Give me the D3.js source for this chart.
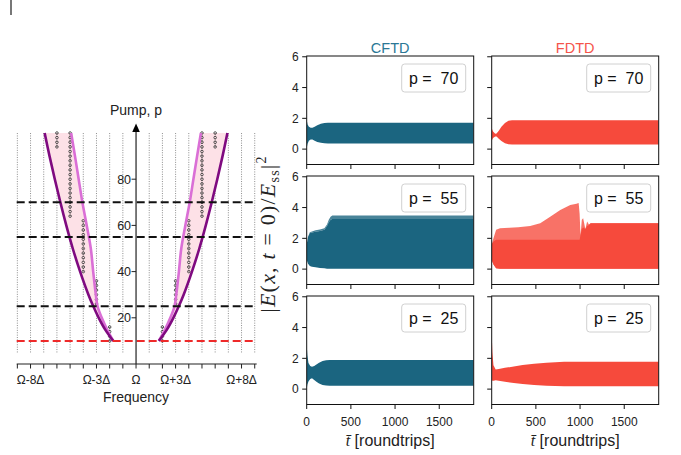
<!DOCTYPE html>
<html><head><meta charset="utf-8">
<script src="https://cdn.jsdelivr.net/npm/d3@7"></script>
<style>
body{margin:0;background:#fff;}
svg{display:block;font-family:"Liberation Sans", Arial, sans-serif;}
</style></head><body>
<svg id="c" width="681" height="455"></svg>
<script>
// ================= LEFT PANEL DATA =================
const freqTicks = [-9,-8,-7,-6,-5,-4,-3,-2,-1,0,1,2,3,4,5,6,7,8,9];
const freqLabelValues = [-8,-3,0,3,8];
const freqLabelTexts = ["Ω-8Δ","Ω-3Δ","Ω","Ω+3Δ","Ω+8Δ"];
const pumpTicks = [20,40,60,80];
const pumpLevels = [70,55,25];
const thresholdLevel = 10;
const curvePump   = [10, 15, 20, 25, 30, 40, 50, 60, 70, 80, 90, 100];
const outerOffset = [1.73, 2.35, 2.83, 3.24, 3.61, 4.24, 4.80, 5.29, 5.74, 6.16, 6.56, 6.93];
const innerOffset = [1.73, 2.2, 2.6, 2.92, 3.05, 3.25, 3.43, 3.74, 4.07, 4.35, 4.63, 4.92];
const pumpGrid = [10,12,14,16,18,20,22,24,26,28,30,32,34,36,38,40,42,44,46,48,50,52,54,56,58,60,62,64,66,68,70,72,74,76,78,80,82,84,86,88,90,92,94,96,98,100];
const markerFreq = [-6,-5,-4,-3,-2,2,3,4,5,6];
const markerPLow = [94,64,40,26,10,10,26,40,64,94];
const markerPHigh= [100,100,62,36,16,16,36,62,100,100];

// ================= RIGHT PANELS DATA =================
const methods = ["CFTD","FDTD"];
const pumps = [70,55,25];
const timeTicks = [0,500,1000,1500];
const ampTicks = [0,2,4,6];

const tC70 = [0, 10, 25, 45, 65, 90, 120, 160, 200, 240, 1890];
const uC70 = [1.9, 1.6, 1.45, 1.38, 1.38, 1.45, 1.55, 1.65, 1.7, 1.72, 1.72];
const lC70 = [0.05, 0.35, 0.55, 0.63, 0.63, 0.55, 0.46, 0.41, 0.38, 0.37, 0.37];

const tF70 = [0, 15, 40, 55, 80, 110, 150, 190, 230, 1890];
const uF70 = [1.35, 1.15, 1.0, 1.02, 1.2, 1.45, 1.7, 1.84, 1.88, 1.88];
const lF70 = [0.55, 0.72, 0.82, 0.82, 0.68, 0.52, 0.38, 0.31, 0.3, 0.3];

const tC55 = [0, 15, 35, 60, 100, 150, 200, 230, 250, 270, 290, 1890];
const uC55 = [1.6, 2.1, 2.4, 2.45, 2.52, 2.58, 2.65, 2.9, 3.2, 3.4, 3.48, 3.48];
const vC55 = [1.6, 2.1, 2.35, 2.38, 2.42, 2.48, 2.55, 2.8, 3.05, 3.2, 3.25, 3.25];
const lC55 = [0.6, 0.35, 0.2, 0.15, 0.12, 0.08, 0.05, 0.03, 0.02, 0.02, 0.02, 0.02];

const tF55 = [0, 20, 50, 94, 200, 300, 435, 549, 662, 776, 889, 960, 984, 995, 1005, 1020, 1035, 1060, 1080, 1100, 1120, 1890];
const uF55 = [1.6, 2.0, 2.55, 2.65, 2.68, 2.72, 2.8, 2.98, 3.4, 3.84, 4.16, 4.25, 4.3, 3.6, 2.2, 3.2, 3.3, 2.6, 3.1, 2.9, 2.98, 2.98];
const cF55 = [1.6, 1.8, 1.9, 1.9, 1.9, 1.9, 1.9, 1.9, 1.9, 1.9, 1.9, 1.9, 1.9, 1.9, 2.2, 2.6, 2.7, 2.6, 2.8, 2.85, 2.98, 2.98];
const lF55 = [0.6, 0.3, 0.05, 0.02, 0.02, 0.02, 0.02, 0.02, 0.02, 0.02, 0.02, 0.02, 0.02, 0.02, 0.02, 0.02, 0.02, 0.02, 0.02, 0.02, 0.02, 0.02];

const tC25 = [0, 8, 20, 40, 60, 85, 110, 140, 180, 220, 260, 1890];
const uC25 = [2.9, 2.2, 1.7, 1.5, 1.45, 1.5, 1.6, 1.72, 1.82, 1.87, 1.89, 1.89];
const lC25 = [0.0, 0.3, 0.5, 0.65, 0.7, 0.6, 0.48, 0.36, 0.27, 0.23, 0.22, 0.22];

const tF25 = [0, 8, 20, 45, 80, 150, 250, 350, 480, 620, 820, 1890];
const uF25 = [3.6, 2.4, 1.55, 1.28, 1.3, 1.38, 1.47, 1.56, 1.65, 1.72, 1.77, 1.77];
const lF25 = [0.6, 0.55, 0.55, 0.58, 0.55, 0.48, 0.4, 0.33, 0.27, 0.22, 0.19, 0.19];

// ================= DRAW =================
const svg = d3.select("#c");
const purple = "#7f0a80", orchid = "#da6fd6", pinkFill = "#fde1e7";

// stray mark top-left
svg.append("line").attr("x1",11).attr("x2",11).attr("y1",0).attr("y2",15)
  .attr("stroke","#555").attr("stroke-width",1.6);

// ---- Left panel ----
const xL = d3.scaleLinear().domain([-9.05, 9.15]).range([16.7, 256.7]);
const yL = d3.scaleLinear().domain([0, 100]).range([364, 133]);
const gL = svg.append("g");

freqTicks.filter(f => f !== 0).forEach(f => {
  gL.append("line").attr("x1", xL(f)).attr("x2", xL(f))
    .attr("y1", yL(5)).attr("y2", yL(100))
    .attr("stroke", "#8c8c8c").attr("stroke-width", 1).attr("stroke-dasharray", "1,1.4");
});

const idx = d3.range(curvePump.length);
const fillArea = side => d3.area().curve(d3.curveCatmullRom)
  .y(i => yL(curvePump[i]))
  .x0(i => xL(side * outerOffset[i]))
  .x1(i => xL(side * innerOffset[i]));
[-1, 1].forEach(s => gL.append("path").attr("d", fillArea(s)(idx)).attr("fill", pinkFill));

// marker columns
markerFreq.forEach((f, k) => {
  const ps = pumpGrid.filter(p => p >= markerPLow[k] && p <= markerPHigh[k]);
  gL.append("line").attr("x1", xL(f)).attr("x2", xL(f))
    .attr("y1", yL(d3.min(ps))).attr("y2", yL(d3.max(ps)))
    .attr("stroke", "#333").attr("stroke-width", 0.8).attr("stroke-dasharray", "1,1.5");
  gL.selectAll(null).data(ps).enter().append("circle")
    .attr("cx", xL(f)).attr("cy", p => yL(p)).attr("r", 1.3)
    .attr("fill", "none").attr("stroke", "#333").attr("stroke-width", 0.8);
});

const curveLine = (side, offs) => d3.line().curve(d3.curveCatmullRom)
  .x(i => xL(side * offs[i])).y(i => yL(curvePump[i]));
[-1, 1].forEach(s => {
  gL.append("path").attr("d", curveLine(s, innerOffset)(idx)).attr("fill", "none")
    .attr("stroke", orchid).attr("stroke-width", 2.6);
  gL.append("path").attr("d", curveLine(s, outerOffset)(idx)).attr("fill", "none")
    .attr("stroke", purple).attr("stroke-width", 2.6);
});

// dashed pump lines
pumpLevels.forEach(p => {
  gL.append("line").attr("x1", xL.range()[0]).attr("x2", xL.range()[1])
    .attr("y1", yL(p)).attr("y2", yL(p))
    .attr("stroke", "#111").attr("stroke-width", 2).attr("stroke-dasharray", "8,4");
});
gL.append("line").attr("x1", xL.range()[0]).attr("x2", xL.range()[1])
  .attr("y1", yL(thresholdLevel)).attr("y2", yL(thresholdLevel))
  .attr("stroke", "#ee2a2a").attr("stroke-width", 2).attr("stroke-dasharray", "8,4");

// x axis (frequency)
gL.append("line").attr("x1", xL.range()[0]).attr("x2", xL.range()[1])
  .attr("y1", yL(0)).attr("y2", yL(0)).attr("stroke", "#222").attr("stroke-width", 1.2);
freqTicks.forEach(f => {
  gL.append("line").attr("x1", xL(f)).attr("x2", xL(f))
    .attr("y1", yL(0)).attr("y2", yL(0) + 4.5).attr("stroke", "#222").attr("stroke-width", 1);
});
freqLabelValues.forEach((f, k) => {
  gL.append("text").attr("x", xL(f)).attr("y", 383.5).attr("text-anchor", "middle")
    .attr("font-size", 12).attr("fill", "#222").text(freqLabelTexts[k]);
});
gL.append("text").attr("x", xL(0)).attr("y", 401.5).attr("text-anchor", "middle")
  .attr("font-size", 14).attr("fill", "#222").text("Frequency");

// y axis (pump) with arrow
gL.append("line").attr("x1", xL(0)).attr("x2", xL(0)).attr("y1", yL(0)).attr("y2", 129)
  .attr("stroke", "#222").attr("stroke-width", 1.2);
gL.append("path").attr("d", `M${xL(0)},123.5 L${xL(0)-3.8},132 L${xL(0)+3.8},132 Z`).attr("fill", "#000");
pumpTicks.forEach(p => {
  gL.append("line").attr("x1", xL(0) - 4.5).attr("x2", xL(0)).attr("y1", yL(p)).attr("y2", yL(p))
    .attr("stroke", "#222").attr("stroke-width", 1);
  gL.append("text").attr("x", xL(0) - 5).attr("y", yL(p)).attr("dy", "0.35em")
    .attr("text-anchor", "end").attr("font-size", 12.5).attr("fill", "#222").text(p);
});
gL.append("text").attr("x", xL(0)).attr("y", 114.5).attr("text-anchor", "middle")
  .attr("font-size", 14).attr("fill", "#222").text("Pump, p");

// ---- Right panels ----
const colX = [306.7, 491.7], panelW = 167;
const rowY = [56, 176, 296], panelH = 108.5;
const tMax = 1890, ampDomain = [-1, 6.05];
const dataColor = ["#1b6580", "#f64a3c"];
const titleColor = ["#2b7796", "#f5544a"];

const series = {
  "CFTD70": [{t: tC70, lo: lC70, hi: uC70, op: 1}],
  "FDTD70": [{t: tF70, lo: lF70, hi: uF70, op: 1}],
  "CFTD55": [{t: tC55, lo: vC55, hi: uC55, op: 0.8}, {t: tC55, lo: lC55, hi: vC55, op: 1}],
  "FDTD55": [{t: tF55, lo: lF55, hi: uF55, op: 0.78}, {t: tF55, lo: lF55, hi: cF55, op: 1}],
  "CFTD25": [{t: tC25, lo: lC25, hi: uC25, op: 1}],
  "FDTD25": [{t: tF25, lo: lF25, hi: uF25, op: 1}]
};

const defs = svg.append("defs");
methods.forEach((m, c) => {
  svg.append("text").attr("x", colX[c] + panelW / 2).attr("y", 53.3)
    .attr("text-anchor", "middle").attr("font-size", 14.5).attr("fill", titleColor[c]).text(m);
  pumps.forEach((p, r) => {
    const x0 = colX[c], y0 = rowY[r];
    const xs = d3.scaleLinear().domain([0, tMax]).range([x0, x0 + panelW]);
    const ys = d3.scaleLinear().domain(ampDomain).range([y0 + panelH, y0]);
    const id = `clip${c}${r}`;
    defs.append("clipPath").attr("id", id).append("rect")
      .attr("x", x0).attr("y", y0).attr("width", panelW).attr("height", panelH);
    const g = svg.append("g");
    const gd = g.append("g").attr("clip-path", `url(#${id})`);
    series[m + p].forEach(s => {
      const ar = d3.area().x(i => xs(s.t[i])).y0(i => ys(s.lo[i])).y1(i => ys(s.hi[i]));
      gd.append("path").attr("d", ar(d3.range(s.t.length)))
        .attr("fill", dataColor[c]).attr("fill-opacity", s.op);
    });
    g.append("rect").attr("x", x0).attr("y", y0).attr("width", panelW).attr("height", panelH)
      .attr("fill", "none").attr("stroke", "#111").attr("stroke-width", 1);
    ampTicks.forEach(a => {
      g.append("line").attr("x1", x0 - 4.5).attr("x2", x0).attr("y1", ys(a)).attr("y2", ys(a))
        .attr("stroke", "#111").attr("stroke-width", 1);
      if (c === 0) g.append("text").attr("x", x0 - 8).attr("y", ys(a)).attr("dy", "0.36em")
        .attr("text-anchor", "end").attr("font-size", 12).attr("fill", "#222").text(a);
    });
    timeTicks.forEach(t => {
      g.append("line").attr("x1", xs(t)).attr("x2", xs(t)).attr("y1", y0 + panelH).attr("y2", y0 + panelH + 4.5)
        .attr("stroke", "#111").attr("stroke-width", 1);
      if (r === 2) g.append("text").attr("x", xs(t)).attr("y", 425.5)
        .attr("text-anchor", "middle").attr("font-size", 12).attr("fill", "#222").text(t);
    });
    // legend box
    const bw = 64, bh = 28, bx = x0 + panelW - 8 - bw, by = y0 + 8;
    g.append("rect").attr("x", bx).attr("y", by).attr("width", bw).attr("height", bh).attr("rx", 3)
      .attr("fill", "#fff").attr("fill-opacity", 0.85).attr("stroke", "#d0d0d0").attr("stroke-width", 1);
    g.append("text").attr("x", bx + bw / 2).attr("y", by + bh / 2).attr("dy", "0.36em")
      .attr("text-anchor", "middle").attr("font-size", 16).attr("fill", "#111")
      .style("white-space", "pre").text(`p =  ${p}`);
  });
  // x label
  const xl = svg.append("text").attr("x", colX[c] + panelW / 2).attr("y", 446)
    .attr("text-anchor", "middle").attr("font-size", 16).attr("fill", "#222");
  xl.append("tspan").attr("font-family", "Liberation Serif").attr("font-style", "italic").text("t̄");
  xl.append("tspan").text(" [roundtrips]");
});

// y label
const yl = svg.append("text").attr("transform", "translate(275,234) rotate(-90)")
  .attr("text-anchor", "middle").attr("font-family", "Liberation Serif").attr("font-size", 22)
  .attr("fill", "#222").style("white-space", "pre").attr("letter-spacing", 1.2);
yl.append("tspan").text("|");
yl.append("tspan").attr("font-style", "italic").text("E");
yl.append("tspan").text("(");
yl.append("tspan").attr("font-style", "italic").text("x");
yl.append("tspan").text(", ");
yl.append("tspan").attr("font-style", "italic").text("t");
yl.append("tspan").text(" = 0)/");
yl.append("tspan").attr("font-style", "italic").text("E");
yl.append("tspan").attr("font-size", 14).attr("dy", 4).text("ss");
yl.append("tspan").attr("dy", -4).text("|");
yl.append("tspan").attr("font-size", 14).attr("dy", -9).text("2");
</script>
</body></html>
